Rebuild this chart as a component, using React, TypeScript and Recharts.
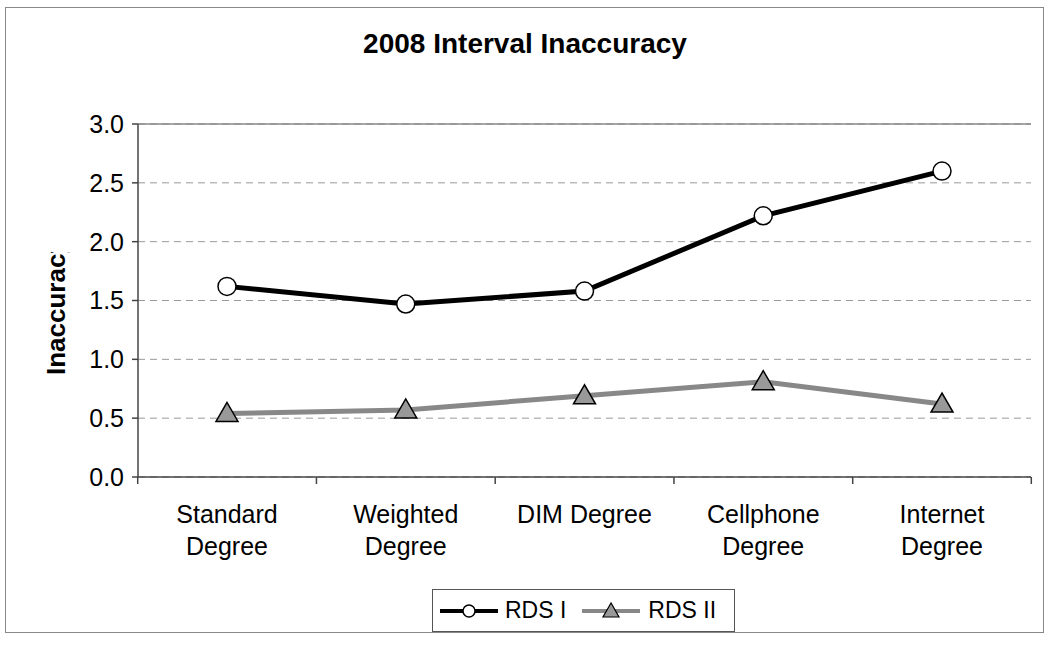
import {
  LineChart,
  Line,
  XAxis,
  YAxis,
  CartesianGrid,
  ReferenceLine,
  Legend,
} from "recharts";

const categories = [
  "Standard Degree",
  "Weighted Degree",
  "DIM Degree",
  "Cellphone Degree",
  "Internet Degree",
];
const rds1 = [1.62, 1.47, 1.58, 2.22, 2.6];
const rds2 = [0.54, 0.57, 0.69, 0.81, 0.62];
const yTicks = [0, 0.5, 1, 1.5, 2, 2.5, 3];

const data = categories.map((name, i) => ({ name, rds1: rds1[i], rds2: rds2[i] }));

const FONT = "'Liberation Sans', Arial, sans-serif";

function CategoryTick(props: any) {
  const { x, y, payload, index, visibleTicksCount, width } = props;
  const band = width / visibleTicksCount;
  const lines = payload.value === "DIM Degree" ? [payload.value] : String(payload.value).split(" ");
  return (
    <g>
      <line x1={x - band / 2} y1={y - 8} x2={x - band / 2} y2={y - 1} stroke="#444" strokeWidth={1.5} />
      {index === visibleTicksCount - 1 && (
        <line x1={x + band / 2} y1={y - 8} x2={x + band / 2} y2={y - 1} stroke="#444" strokeWidth={1.5} />
      )}
      {lines.map((l: string, i: number) => (
        <text
          key={i}
          x={x}
          y={y + 38 + i * 32}
          textAnchor="middle"
          fontSize={25}
          fontFamily={FONT}
          fill="#000"
        >
          {l}
        </text>
      ))}
    </g>
  );
}

function Triangle(props: any) {
  const { cx, cy, index } = props;
  if (cx == null || cy == null) return null;
  return (
    <polygon
      key={index}
      points={`${cx},${cy - 11} ${cx - 11},${cy + 8} ${cx + 11},${cy + 8}`}
      fill="#999"
      stroke="#000"
      strokeWidth={1.5}
    />
  );
}

function LegendBox() {
  return (
    <div
      style={{
        border: "1px solid #555",
        width: 303,
        height: 43,
        boxSizing: "border-box",
        display: "flex",
        alignItems: "center",
        fontFamily: FONT,
        fontSize: 23,
        color: "#000",
        background: "#fff",
      }}
    >
      <svg width={62} height={24} style={{ marginLeft: 5 }}>
        <line x1={2} y1={12} x2={60} y2={12} stroke="#000" strokeWidth={4} />
        <circle cx={31} cy={12} r={6} fill="#fff" stroke="#000" strokeWidth={1.5} />
      </svg>
      <span style={{ marginLeft: 5 }}>RDS I</span>
      <svg width={62} height={24} style={{ marginLeft: 14 }}>
        <line x1={2} y1={12} x2={60} y2={12} stroke="#888" strokeWidth={4} />
        <polygon points="31,4 23,18 39,18" fill="#999" stroke="#000" strokeWidth={1.2} />
      </svg>
      <span style={{ marginLeft: 6 }}>RDS II</span>
    </div>
  );
}

export default function App() {
  return (
    <div style={{ position: "absolute", left: 0, top: 0, width: 1050, height: 645, background: "#fff" }}>
      <div
        style={{
          position: "absolute",
          left: 5,
          top: 7,
          width: 1039,
          height: 626,
          border: "1px solid #888",
          boxSizing: "border-box",
        }}
      />
      <div
        style={{
          position: "absolute",
          left: 0,
          top: 28,
          width: 1050,
          textAlign: "center",
          fontFamily: FONT,
          fontSize: 28,
          fontWeight: "bold",
          color: "#000",
        }}
      >
        2008 Interval Inaccuracy
      </div>
      <div style={{ position: "absolute", left: 0, top: 0 }}>
        <LineChart
          width={1050}
          height={645}
          data={data}
          margin={{ top: 124, right: 19, bottom: 0, left: 0 }}
        >
          <CartesianGrid vertical={false} stroke="#999" strokeDasharray="7 5" />
          <XAxis
            dataKey="name"
            padding={{ left: 89, right: 89 }}
            axisLine={{ stroke: "#444", strokeWidth: 1.5 }}
            tickLine={false}
            tick={<CategoryTick />}
            interval={0}
            height={125}
          />
          <YAxis
            domain={[0, 3]}
            ticks={yTicks}
            width={138}
            tickFormatter={(v: number) => v.toFixed(1)}
            axisLine={{ stroke: "#444", strokeWidth: 1.5 }}
            tickLine={{ stroke: "#444", strokeWidth: 1.5 }}
            tickSize={6}
            tickMargin={8}
            tick={{ fontSize: 25, fontFamily: FONT, fill: "#000" }}
          />
          <YAxis
            yAxisId="right"
            orientation="right"
            domain={[0, 3]}
            width={0}
            tick={false}
            tickLine={false}
            axisLine={{ stroke: "#888", strokeWidth: 1.5 }}
          />
          <ReferenceLine y={3} stroke="#888" strokeWidth={1.5} />
          <Legend
            verticalAlign="bottom"
            content={() => <LegendBox />}
            wrapperStyle={{ position: "absolute", left: 432, top: 589, width: 303, height: 43, bottom: "auto" }}
          />
          <Line
            type="linear"
            dataKey="rds1"
            name="RDS I"
            stroke="#000"
            strokeWidth={5}
            dot={{ r: 9, fill: "#fff", stroke: "#000", strokeWidth: 1.5 }}
            isAnimationActive={false}
          />
          <Line
            type="linear"
            dataKey="rds2"
            name="RDS II"
            stroke="#888"
            strokeWidth={5}
            dot={<Triangle />}
            isAnimationActive={false}
          />
        </LineChart>
      </div>
      <svg width={100} height={645} style={{ position: "absolute", left: 0, top: 0 }}>
        <defs>
          <clipPath id="ylabclip" clipPathUnits="userSpaceOnUse">
            <rect x={20} y={252} width={70} height={160} />
          </clipPath>
        </defs>
        <g clipPath="url(#ylabclip)">
          <text
            transform="translate(65, 375) rotate(-90)"
            fontSize={26}
            fontWeight="bold"
            fontFamily={FONT}
            fill="#000"
          >
            Inaccuracy
          </text>
        </g>
      </svg>
    </div>
  );
}
